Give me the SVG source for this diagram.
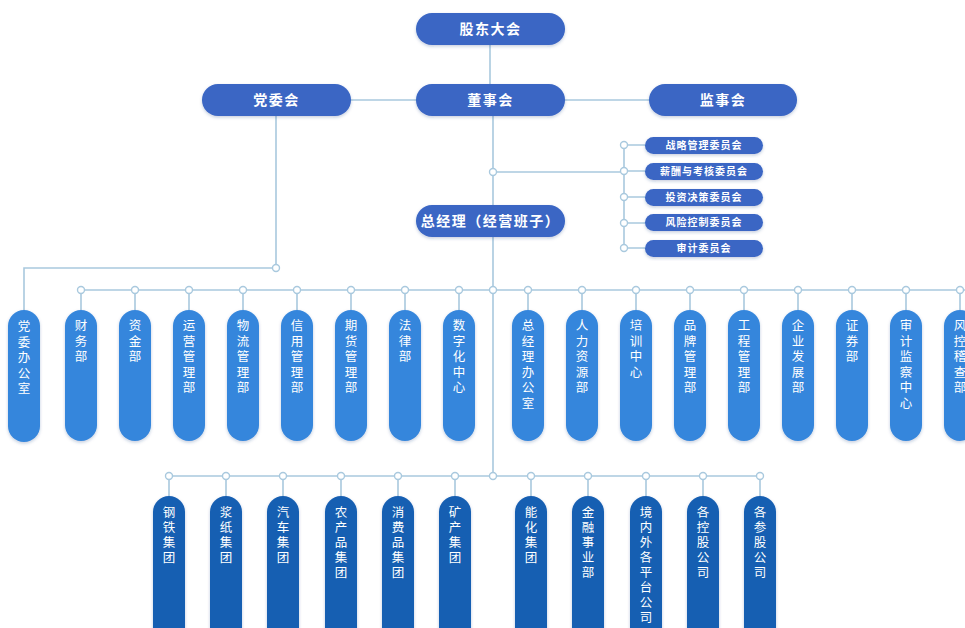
<svg xmlns="http://www.w3.org/2000/svg" width="965" height="628" viewBox="0 0 965 628">
<defs>
<style>
.bg{fill:#ffffff}
.ln{stroke:#a9c9de;stroke-width:1.6;fill:none}
.dot{fill:#ffffff;stroke:#a9c9de;stroke-width:1.4}
.top{fill:#3a66c4}
.cm{fill:#3a66c4}
.dp{fill:#3586dc}
.gp{fill:#175fb2}
.t{font-family:"Noto Sans CJK SC","Noto Sans",sans-serif;fill:#ffffff;text-anchor:middle}
.tt{font-size:14px;font-weight:bold;letter-spacing:1.5px}
.ct{font-size:10px;font-weight:bold;letter-spacing:1px}
.vd{font-family:"Noto Sans CJK SC","Noto Sans",sans-serif;fill:#ffffff;font-size:12.5px;writing-mode:vertical-rl;text-anchor:start;letter-spacing:3px}
.vg{font-family:"Noto Sans CJK SC","Noto Sans",sans-serif;fill:#ffffff;font-size:12.5px;writing-mode:vertical-rl;text-anchor:start;letter-spacing:2.5px}
</style>
<filter id="sh" x="-30%" y="-10%" width="160%" height="130%">
<feDropShadow dx="0" dy="1.5" stdDeviation="1.5" flood-color="#1d3f7a" flood-opacity="0.25"/>
</filter>
</defs>
<rect class="bg" x="0" y="0" width="965" height="628"/>

<g id="connectors">
<path class="ln" d="M490 45V84"/>
<path class="ln" d="M351 100H416M565 100H649"/>
<path class="ln" d="M276 116V268H24V312"/>
<path class="ln" d="M493 116V205M493 237V476"/>
<path class="ln" d="M493 172H624M624 145V248M624 145H645M624 171H645M624 197H645M624 223H645M624 248H645"/>
<path class="ln" d="M81 290H965"/>
<path class="ln" d="M81 290V310M135 290V310M189 290V310M243 290V310M297 290V310M351 290V310M405 290V310M459 290V310M528 290V310M582 290V310M636 290V310M690 290V310M744 290V310M798 290V310M852 290V310M906 290V310M960 290V310"/>
<path class="ln" d="M169 476H760"/>
<path class="ln" d="M169 476V496M226 476V496M283 476V496M341 476V496M398 476V496M455 476V496M531 476V496M588 476V496M646 476V496M703 476V496M760 476V496"/>
<circle class="dot" cx="276" cy="268" r="3.5"/>
<circle class="dot" cx="493" cy="172" r="3.5"/>
<circle class="dot" cx="624" cy="145" r="3.5"/>
<circle class="dot" cx="624" cy="171" r="3.5"/>
<circle class="dot" cx="624" cy="197" r="3.5"/>
<circle class="dot" cx="624" cy="223" r="3.5"/>
<circle class="dot" cx="624" cy="248" r="3.5"/>
<circle class="dot" cx="493" cy="290" r="3.5"/>
<circle class="dot" cx="81" cy="290" r="3.5"/>
<circle class="dot" cx="135" cy="290" r="3.5"/>
<circle class="dot" cx="189" cy="290" r="3.5"/>
<circle class="dot" cx="243" cy="290" r="3.5"/>
<circle class="dot" cx="297" cy="290" r="3.5"/>
<circle class="dot" cx="351" cy="290" r="3.5"/>
<circle class="dot" cx="405" cy="290" r="3.5"/>
<circle class="dot" cx="459" cy="290" r="3.5"/>
<circle class="dot" cx="528" cy="290" r="3.5"/>
<circle class="dot" cx="582" cy="290" r="3.5"/>
<circle class="dot" cx="636" cy="290" r="3.5"/>
<circle class="dot" cx="690" cy="290" r="3.5"/>
<circle class="dot" cx="744" cy="290" r="3.5"/>
<circle class="dot" cx="798" cy="290" r="3.5"/>
<circle class="dot" cx="852" cy="290" r="3.5"/>
<circle class="dot" cx="906" cy="290" r="3.5"/>
<circle class="dot" cx="960" cy="290" r="3.5"/>
<circle class="dot" cx="493" cy="476" r="3.5"/>
<circle class="dot" cx="169" cy="476" r="3.5"/>
<circle class="dot" cx="226" cy="476" r="3.5"/>
<circle class="dot" cx="283" cy="476" r="3.5"/>
<circle class="dot" cx="341" cy="476" r="3.5"/>
<circle class="dot" cx="398" cy="476" r="3.5"/>
<circle class="dot" cx="455" cy="476" r="3.5"/>
<circle class="dot" cx="531" cy="476" r="3.5"/>
<circle class="dot" cx="588" cy="476" r="3.5"/>
<circle class="dot" cx="646" cy="476" r="3.5"/>
<circle class="dot" cx="703" cy="476" r="3.5"/>
<circle class="dot" cx="760" cy="476" r="3.5"/>
</g>

<g id="gudong"><rect class="top" filter="url(#sh)" x="416" y="13" width="149" height="32" rx="16"/><text class="t tt" x="490.5" y="34">股东大会</text></g>
<g id="dangwei"><rect class="top" filter="url(#sh)" x="202" y="84" width="149" height="32" rx="16"/><text class="t tt" x="276.5" y="105">党委会</text></g>
<g id="dongshi"><rect class="top" filter="url(#sh)" x="416" y="84" width="149" height="32" rx="16"/><text class="t tt" x="490.5" y="105">董事会</text></g>
<g id="jianshi"><rect class="top" filter="url(#sh)" x="649" y="84" width="148" height="32" rx="16"/><text class="t tt" x="723" y="105">监事会</text></g>
<g id="zongjingli"><rect class="top" filter="url(#sh)" x="416" y="205" width="149" height="32" rx="16"/><text class="t tt" x="490.5" y="226">总经理（经营班子）</text></g>

<g id="c1"><rect class="cm" filter="url(#sh)" x="645" y="137" width="118" height="17" rx="8.5"/><text class="t ct" x="704" y="149">战略管理委员会</text></g>
<g id="c2"><rect class="cm" filter="url(#sh)" x="645" y="163" width="118" height="17" rx="8.5"/><text class="t ct" x="704" y="175">薪酬与考核委员会</text></g>
<g id="c3"><rect class="cm" filter="url(#sh)" x="645" y="189" width="118" height="17" rx="8.5"/><text class="t ct" x="704" y="201">投资决策委员会</text></g>
<g id="c4"><rect class="cm" filter="url(#sh)" x="645" y="214" width="118" height="17" rx="8.5"/><text class="t ct" x="704" y="226">风险控制委员会</text></g>
<g id="c5"><rect class="cm" filter="url(#sh)" x="645" y="240" width="118" height="17" rx="8.5"/><text class="t ct" x="704" y="252">审计委员会</text></g>

<g id="d0"><rect class="dp" filter="url(#sh)" x="8" y="310" width="32" height="132" rx="16"/><text class="vd" x="24" y="320">党委办公室</text></g>
<g id="d1"><rect class="dp" filter="url(#sh)" x="65" y="310" width="32" height="131" rx="16"/><text class="vd" x="81" y="319">财务部</text></g>
<g id="d2"><rect class="dp" filter="url(#sh)" x="119" y="310" width="32" height="131" rx="16"/><text class="vd" x="135" y="319">资金部</text></g>
<g id="d3"><rect class="dp" filter="url(#sh)" x="173" y="310" width="32" height="131" rx="16"/><text class="vd" x="189" y="319">运营管理部</text></g>
<g id="d4"><rect class="dp" filter="url(#sh)" x="227" y="310" width="32" height="131" rx="16"/><text class="vd" x="243" y="319">物流管理部</text></g>
<g id="d5"><rect class="dp" filter="url(#sh)" x="281" y="310" width="32" height="131" rx="16"/><text class="vd" x="297" y="319">信用管理部</text></g>
<g id="d6"><rect class="dp" filter="url(#sh)" x="335" y="310" width="32" height="131" rx="16"/><text class="vd" x="351" y="319">期货管理部</text></g>
<g id="d7"><rect class="dp" filter="url(#sh)" x="389" y="310" width="32" height="131" rx="16"/><text class="vd" x="405" y="319">法律部</text></g>
<g id="d8"><rect class="dp" filter="url(#sh)" x="443" y="310" width="32" height="131" rx="16"/><text class="vd" x="459" y="319">数字化中心</text></g>
<g id="d9"><rect class="dp" filter="url(#sh)" x="512" y="310" width="32" height="131" rx="16"/><text class="vd" x="528" y="319">总经理办公室</text></g>
<g id="d10"><rect class="dp" filter="url(#sh)" x="566" y="310" width="32" height="131" rx="16"/><text class="vd" x="582" y="319">人力资源部</text></g>
<g id="d11"><rect class="dp" filter="url(#sh)" x="620" y="310" width="32" height="131" rx="16"/><text class="vd" x="636" y="319">培训中心</text></g>
<g id="d12"><rect class="dp" filter="url(#sh)" x="674" y="310" width="32" height="131" rx="16"/><text class="vd" x="690" y="319">品牌管理部</text></g>
<g id="d13"><rect class="dp" filter="url(#sh)" x="728" y="310" width="32" height="131" rx="16"/><text class="vd" x="744" y="319">工程管理部</text></g>
<g id="d14"><rect class="dp" filter="url(#sh)" x="782" y="310" width="32" height="131" rx="16"/><text class="vd" x="798" y="319">企业发展部</text></g>
<g id="d15"><rect class="dp" filter="url(#sh)" x="836" y="310" width="32" height="131" rx="16"/><text class="vd" x="852" y="319">证券部</text></g>
<g id="d16"><rect class="dp" filter="url(#sh)" x="890" y="310" width="32" height="131" rx="16"/><text class="vd" x="906" y="319">审计监察中心</text></g>
<g id="d17"><rect class="dp" filter="url(#sh)" x="944" y="310" width="32" height="131" rx="16"/><text class="vd" x="960" y="319">风控稽查部</text></g>

<g id="g1"><rect class="gp" filter="url(#sh)" x="153" y="496" width="32" height="150" rx="16"/><text class="vg" x="169" y="505.5">钢铁集团</text></g>
<g id="g2"><rect class="gp" filter="url(#sh)" x="210" y="496" width="32" height="150" rx="16"/><text class="vg" x="226" y="505.5">浆纸集团</text></g>
<g id="g3"><rect class="gp" filter="url(#sh)" x="267" y="496" width="32" height="150" rx="16"/><text class="vg" x="283" y="505.5">汽车集团</text></g>
<g id="g4"><rect class="gp" filter="url(#sh)" x="325" y="496" width="32" height="150" rx="16"/><text class="vg" x="341" y="505.5">农产品集团</text></g>
<g id="g5"><rect class="gp" filter="url(#sh)" x="382" y="496" width="32" height="150" rx="16"/><text class="vg" x="398" y="505.5">消费品集团</text></g>
<g id="g6"><rect class="gp" filter="url(#sh)" x="439" y="496" width="32" height="150" rx="16"/><text class="vg" x="455" y="505.5">矿产集团</text></g>
<g id="g7"><rect class="gp" filter="url(#sh)" x="515" y="496" width="32" height="150" rx="16"/><text class="vg" x="531" y="505.5">能化集团</text></g>
<g id="g8"><rect class="gp" filter="url(#sh)" x="572" y="496" width="32" height="150" rx="16"/><text class="vg" x="588" y="505.5">金融事业部</text></g>
<g id="g9"><rect class="gp" filter="url(#sh)" x="630" y="496" width="32" height="150" rx="16"/><text class="vg" x="646" y="505.5">境内外各平台公司</text></g>
<g id="g10"><rect class="gp" filter="url(#sh)" x="687" y="496" width="32" height="150" rx="16"/><text class="vg" x="703" y="505.5">各控股公司</text></g>
<g id="g11"><rect class="gp" filter="url(#sh)" x="744" y="496" width="32" height="150" rx="16"/><text class="vg" x="760" y="505.5">各参股公司</text></g>
</svg>
